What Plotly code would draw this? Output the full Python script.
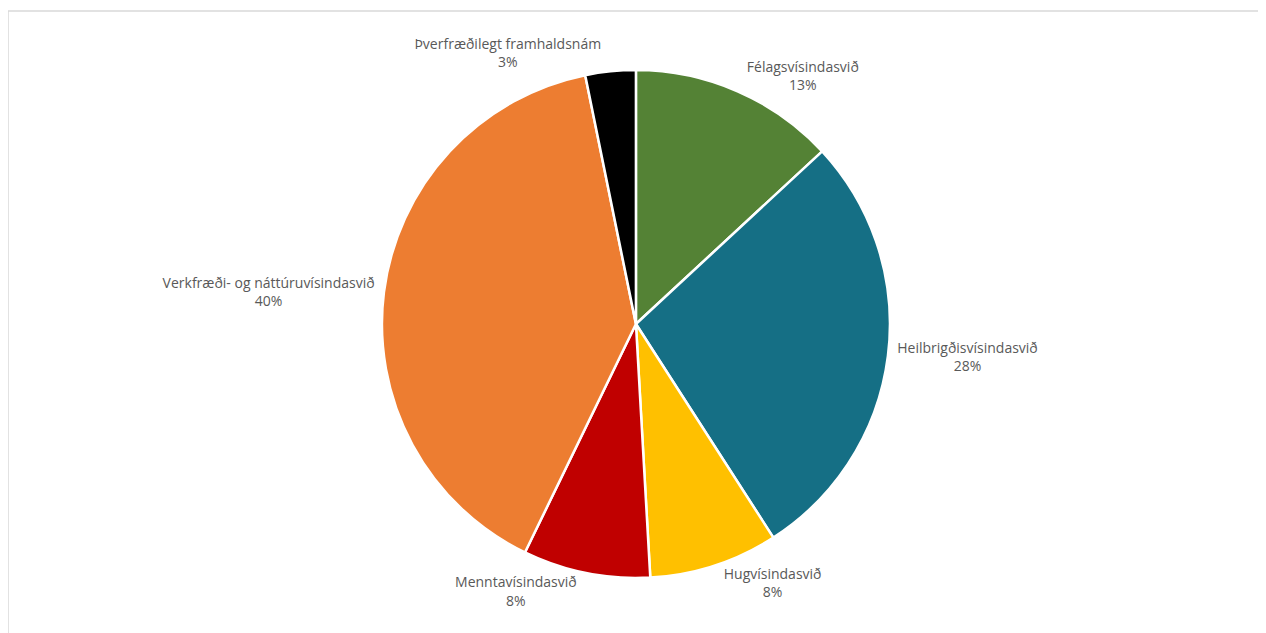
import plotly.graph_objects as go

labels = ["Félagsvísindasvið", "Heilbrigðisvísindasvið", "Hugvísindasvið",
          "Menntavísindasvið", "Verkfræði- og náttúruvísindasvið",
          "Þverfræðilegt framhaldsnám"]
values = [13.1, 27.8, 8.2, 8.1, 39.6, 3.2]
colors = ["#548235", "#156f85", "#ffc000", "#c00000", "#ed7d31", "#000000"]

fig = go.Figure(go.Pie(
    labels=labels,
    values=values,
    sort=False,
    direction="clockwise",
    rotation=0,
    automargin=False,
    marker=dict(colors=colors, line=dict(color="white", width=2.5)),
    textposition="outside",
    texttemplate="%{label}<br>%{percent:.0%}",
    outsidetextfont=dict(family="Open Sans", size=14, color="#595959"),
    hoverinfo="label+percent",
    domain=dict(x=[0.0, 0.992], y=[0.0995, 0.902]),
    showlegend=False,
))

fig.update_layout(
    width=1266, height=633,
    margin=dict(l=0, r=0, t=0, b=0),
    paper_bgcolor="white",
    plot_bgcolor="white",
    shapes=[dict(type="rect", xref="paper", yref="paper",
                 x0=0.0, x1=0.9993, y0=-0.05, y1=0.9953,
                 line=dict(color="#d9d9d9", width=1.5), layer="below")],
)

fig.write_html("out.html")
